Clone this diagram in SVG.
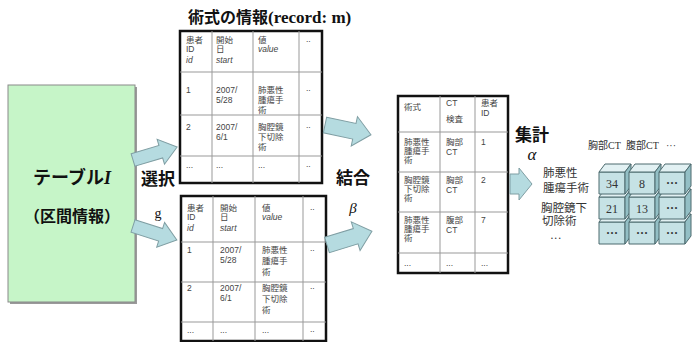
<svg xmlns="http://www.w3.org/2000/svg" width="693" height="342" viewBox="0 0 693 342">
<style>
text{font-family:"Liberation Sans","Noto Sans CJK JP",sans-serif}
.c{font-size:8.5px;fill:#444}
.i{font-style:italic}
.tb{fill:#fff;stroke:#111;stroke-width:2.5}
.gl{stroke:#999;stroke-width:1;fill:none}
.ar{fill:#b5dbe0;stroke:#7f9ea3;stroke-width:1}
.lb{font-size:17px;font-weight:bold;fill:#111}
.sr{font-family:"Liberation Serif","Noto Sans CJK JP",serif}
.cl{font-size:11.5px;fill:#333;font-family:"Liberation Serif","Noto Sans CJK JP",serif}
.hd{font-size:10px;fill:#333;font-family:"Liberation Serif","Noto Sans CJK JP",serif}
.fr{fill:#c6e2e5;stroke:#4d6b6f;stroke-width:1}
.tp{fill:#e2f1f3;stroke:#4d6b6f;stroke-width:1}
.rt{fill:#93bfc5;stroke:#4d6b6f;stroke-width:1}
.cn{font-size:12px;fill:#333;text-anchor:middle;font-family:"Liberation Serif",serif}
</style>

<g id="table-I">
<rect x="10" y="87" width="127" height="217" fill="#9a9a9a"/>
<rect x="8" y="85" width="127" height="217" fill="#c6f5c8" stroke="#8a8a8a" stroke-width="1"/>
<text x="72" y="184" text-anchor="middle" font-size="18" font-weight="bold" fill="#111">テーブル<tspan class="sr" font-style="italic">I</tspan></text>
<text x="72" y="222" text-anchor="middle" font-size="16" font-weight="bold" fill="#111">（区間情報）</text>
</g>

<g id="title">
<text x="188" y="23" font-size="16" font-weight="bold" fill="#111">術式の情報<tspan class="sr" font-size="17">(record: m)</tspan></text>
</g>

<g id="table-top">
<rect class="tb" x="180" y="31" width="142" height="152"/>
<path class="gl" d="M212,31V183M253,31V183M299,31V183M180,72H322M180,115H322M180,156H322"/>
<text class="c" x="186" y="43">患者</text><text class="c" x="186" y="52">ID</text><text class="c i" x="186" y="63">id</text>
<text class="c" x="216" y="43">開始</text><text class="c" x="216" y="52">日</text><text class="c i" x="216" y="63">start</text>
<text class="c" x="258" y="43">値</text><text class="c i" x="258" y="52">value</text>
<text class="c" x="306" y="42">..</text>
<text class="c" x="186" y="93">1</text>
<text class="c" x="216" y="93">2007/</text><text class="c" x="216" y="103">5/28</text>
<text class="c" x="258" y="93">肺悪性</text><text class="c" x="258" y="103">腫瘍手</text><text class="c" x="258" y="113">術</text>
<text class="c" x="306" y="91">..</text>
<text class="c" x="186" y="130">2</text>
<text class="c" x="216" y="130">2007/</text><text class="c" x="216" y="140">6/1</text>
<text class="c" x="258" y="130">胸腔鏡</text><text class="c" x="258" y="140">下切除</text><text class="c" x="258" y="150">術</text>
<text class="c" x="306" y="128">..</text>
<text class="c" x="186" y="168">...</text><text class="c" x="216" y="168">...</text><text class="c" x="258" y="168">...</text><text class="c" x="306" y="167">..</text>
</g>

<g id="table-bottom">
<rect class="tb" x="181" y="196" width="145" height="145"/>
<path class="gl" d="M213,196V341M255,196V341M303,196V341M181,242H326M181,282H326M181,322H326"/>
<text class="c" x="187" y="211">患者</text><text class="c" x="187" y="220">ID</text><text class="c i" x="187" y="231">id</text>
<text class="c" x="220" y="211">開始</text><text class="c" x="220" y="220">日</text><text class="c i" x="220" y="231">start</text>
<text class="c" x="262" y="211">値</text><text class="c i" x="262" y="220">value</text>
<text class="c" x="310" y="210">..</text>
<text class="c" x="187" y="253">1</text>
<text class="c" x="220" y="253">2007/</text><text class="c" x="220" y="263">5/28</text>
<text class="c" x="262" y="253">肺悪性</text><text class="c" x="262" y="264">腫瘍手</text><text class="c" x="262" y="275">術</text>
<text class="c" x="310" y="251">..</text>
<text class="c" x="187" y="291">2</text>
<text class="c" x="220" y="291">2007/</text><text class="c" x="220" y="301">6/1</text>
<text class="c" x="262" y="291">胸腔鏡</text><text class="c" x="262" y="302">下切除</text><text class="c" x="262" y="313">術</text>
<text class="c" x="310" y="289">..</text>
<text class="c" x="187" y="333">...</text><text class="c" x="220" y="333">...</text><text class="c" x="262" y="333">...</text><text class="c" x="310" y="332">..</text>
</g>

<g id="table-joined">
<rect class="tb" x="398" y="96" width="110" height="177"/>
<path class="gl" d="M440,96V273M475,96V273M398,132H508M398,172H508M398,212H508M398,253H508"/>
<text class="c" x="404" y="110">術式</text>
<text class="c" x="446" y="106">CT</text><text class="c" x="446" y="122">検査</text>
<text class="c" x="481" y="106">患者</text><text class="c" x="481" y="116">ID</text>
<text class="c" x="404" y="145">肺悪性</text><text class="c" x="404" y="154">腫瘍手</text><text class="c" x="404" y="163">術</text>
<text class="c" x="446" y="145">胸部</text><text class="c" x="446" y="155">CT</text>
<text class="c" x="481" y="145">1</text>
<text class="c" x="404" y="183">胸腔鏡</text><text class="c" x="404" y="192">下切除</text><text class="c" x="404" y="201">術</text>
<text class="c" x="446" y="183">胸部</text><text class="c" x="446" y="193">CT</text>
<text class="c" x="481" y="183">2</text>
<text class="c" x="404" y="223">肺悪性</text><text class="c" x="404" y="232">腫瘍手</text><text class="c" x="404" y="241">術</text>
<text class="c" x="446" y="223">腹部</text><text class="c" x="446" y="233">CT</text>
<text class="c" x="481" y="223">7</text>
<text class="c" x="404" y="266">...</text><text class="c" x="446" y="266">...</text><text class="c" x="481" y="266">...</text>
</g>

<g id="cube">
<text class="hd" x="588" y="149">胸部CT</text>
<text class="hd" x="626" y="149">腹部CT</text>
<text class="hd" x="666" y="149">···</text>
<text class="cl" x="543" y="177">肺悪性</text>
<text class="cl" x="543" y="192">腫瘍手術</text>
<text class="cl" x="541" y="212">胸腔鏡下</text>
<text class="cl" x="542" y="225">切除術</text>
<text class="cl" x="550" y="242">···</text>
<g id="cells">
<path class="fr" d="M599,222h26v22h-26z"/><path class="tp" d="M599,222l6,-8h26l-6,8z"/><path class="rt" d="M625,222l6,-8v22l-6,8z"/>
<path class="fr" d="M629,222h26v22h-26z"/><path class="tp" d="M629,222l6,-8h26l-6,8z"/><path class="rt" d="M655,222l6,-8v22l-6,8z"/>
<path class="fr" d="M659,222h26v22h-26z"/><path class="tp" d="M659,222l6,-8h26l-6,8z"/><path class="rt" d="M685,222l6,-8v22l-6,8z"/>
<path class="fr" d="M599,197h26v22h-26z"/><path class="tp" d="M599,197l6,-8h26l-6,8z"/><path class="rt" d="M625,197l6,-8v22l-6,8z"/>
<path class="fr" d="M629,197h26v22h-26z"/><path class="tp" d="M629,197l6,-8h26l-6,8z"/><path class="rt" d="M655,197l6,-8v22l-6,8z"/>
<path class="fr" d="M659,197h26v22h-26z"/><path class="tp" d="M659,197l6,-8h26l-6,8z"/><path class="rt" d="M685,197l6,-8v22l-6,8z"/>
<path class="fr" d="M599,172h26v22h-26z"/><path class="tp" d="M599,172l6,-8h26l-6,8z"/><path class="rt" d="M625,172l6,-8v22l-6,8z"/>
<path class="fr" d="M629,172h26v22h-26z"/><path class="tp" d="M629,172l6,-8h26l-6,8z"/><path class="rt" d="M655,172l6,-8v22l-6,8z"/>
<path class="fr" d="M659,172h26v22h-26z"/><path class="tp" d="M659,172l6,-8h26l-6,8z"/><path class="rt" d="M685,172l6,-8v22l-6,8z"/>
</g>
<text class="cn" x="612" y="188">34</text><text class="cn" x="642" y="188">8</text><text class="cn" x="672" y="187" font-weight="bold">···</text>
<text class="cn" x="612" y="213">21</text><text class="cn" x="642" y="213">13</text><text class="cn" x="672" y="212" font-weight="bold">···</text>
<text class="cn" x="612" y="237" font-weight="bold">···</text><text class="cn" x="642" y="237" font-weight="bold">···</text><text class="cn" x="672" y="237" font-weight="bold">···</text>
</g>

<g id="connectors">
<path class="ar" transform="translate(133,160) rotate(-16.5)" d="M0,-6.5L29,-6.5L29,-13L46,0L29,13L29,6.5L0,6.5Z"/>
<path class="ar" transform="translate(133,226) rotate(17.6)" d="M0,-6.5L29,-6.5L29,-13L46,0L29,13L29,6.5L0,6.5Z"/>
<path class="ar" transform="translate(325,125) rotate(12)" d="M0,-8L30,-8L30,-15L47,0L30,15L30,8L0,8Z"/>
<path class="ar" transform="translate(327,245) rotate(-17)" d="M0,-8L30,-8L30,-15L47,0L30,15L30,8L0,8Z"/>
<path class="ar" transform="translate(510,184)" d="M0,-10L9,-10L9,-16L22,0L9,16L9,10L0,10Z"/>
<text class="lb" x="158" y="185" text-anchor="middle">選択</text>
<text class="sr" x="158" y="218" text-anchor="middle" font-size="14" fill="#111">g</text>
<text class="lb" x="353" y="184" text-anchor="middle">結合</text>
<text class="sr" x="353" y="213" text-anchor="middle" font-size="15" font-style="italic" fill="#111">β</text>
<text class="lb" x="532" y="141" text-anchor="middle" font-size="16">集計</text>
<text class="sr" x="532" y="160" text-anchor="middle" font-size="17" font-style="italic" fill="#111">α</text>
</g>
</svg>
